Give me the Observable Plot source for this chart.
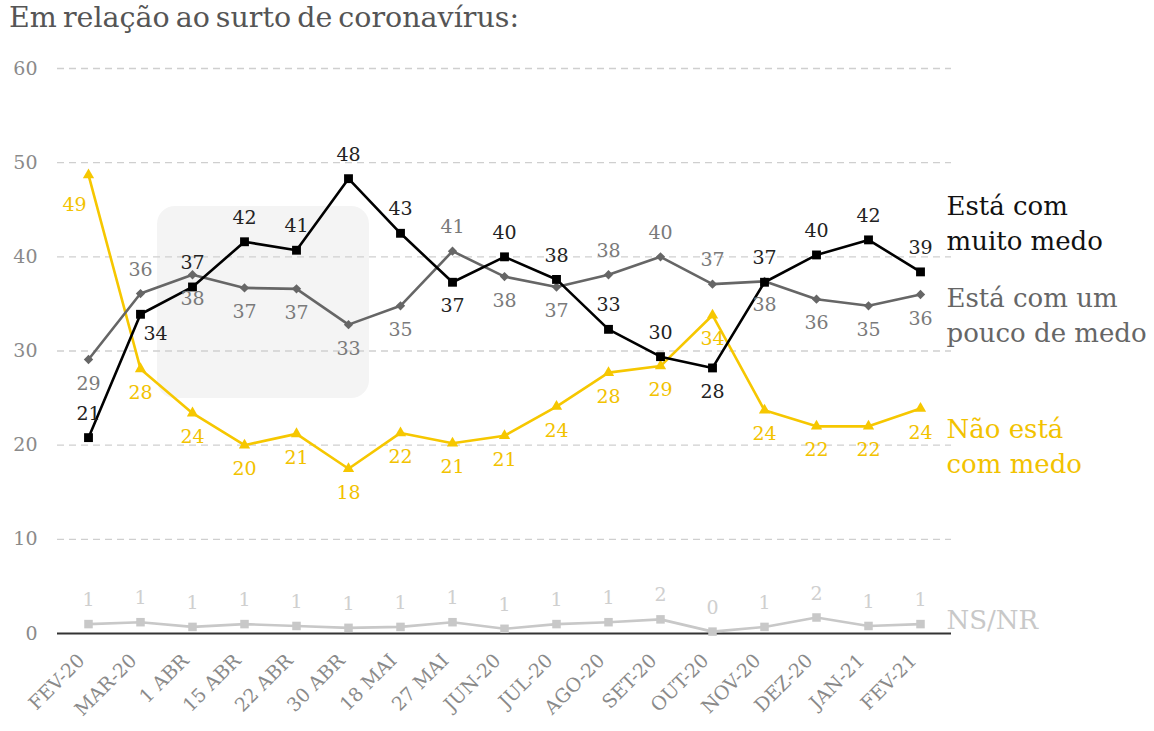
<!DOCTYPE html>
<html><head><meta charset="utf-8">
<script src="https://cdn.jsdelivr.net/npm/d3@7"></script>
<script src="https://cdn.jsdelivr.net/npm/@observablehq/plot@0.6"></script>
<style>
body{margin:0;background:#fff;}
#wrap{position:relative;width:1154px;height:731px;overflow:hidden;font-family:"DejaVu Serif";}
#title{position:absolute;left:9px;top:1px;font-size:28.5px;color:#555;letter-spacing:0px;word-spacing:-3px;white-space:nowrap;}
#wm-box{position:absolute;left:157px;top:206px;width:212px;height:192px;background:#f4f4f4;border-radius:18px;}
#chart{position:absolute;left:0;top:40px;}
</style></head>
<body><div id="wrap">
<div id="title">Em relação ao surto de coronavírus:</div>
<div id="wm-box"></div>
<div id="chart"></div>
</div>
<script>
const categories = ["FEV-20","MAR-20","1 ABR","15 ABR","22 ABR","30 ABR","18 MAI","27 MAI","JUN-20","JUL-20","AGO-20","SET-20","OUT-20","NOV-20","DEZ-20","JAN-21","FEV-21"];
const yTicks = [0,10,20,30,40,50,60];

const muitoMedo = [20.8,33.9,36.8,41.6,40.7,48.3,42.5,37.3,40.0,37.6,32.3,29.4,28.2,37.3,40.2,41.8,38.4];
const muitoMedoLabels = [21,34,37,42,41,48,43,37,40,38,33,30,28,37,40,42,39];
const muitoMedoPos = ["a","b","a","a","a","a","a","b","a","a","a","a","b","a","a","a","a"];

const poucoMedo = [29.1,36.1,38.1,36.7,36.6,32.8,34.8,40.6,37.9,36.8,38.1,40.0,37.1,37.4,35.5,34.8,36.0];
const poucoMedoLabels = [29,36,38,37,37,33,35,41,38,37,38,40,37,38,36,35,36];
const poucoMedoPos = ["b","a","b","b","b","b","b","a","b","b","a","a","a","b","b","b","b"];

const semMedo = [48.7,28.1,23.4,20.0,21.2,17.5,21.3,20.2,21.0,24.1,27.7,28.4,33.8,23.7,22.0,22.0,23.9];
const semMedoLabels = [49,28,24,20,21,18,22,21,21,24,28,29,34,24,22,22,24];
const semMedoPos = ["b","b","b","b","b","b","b","b","b","b","b","b","b","b","b","b","b"];

const nsnr = [1.0,1.2,0.7,1.0,0.8,0.6,0.7,1.2,0.5,1.0,1.2,1.5,0.2,0.7,1.7,0.8,1.0];
const nsnrLabels = [1,1,1,1,1,1,1,1,1,1,1,2,0,1,2,1,1];
const nsnrPos = ["a","a","a","a","a","a","a","a","a","a","a","a","a","a","a","a","a"];

const seriesNames = ["Está com\nmuito medo","Está com um\npouco de medo","Não está\ncom medo","NS/NR"];

const styles = [
  {values: muitoMedo, labels: muitoMedoLabels, pos: muitoMedoPos, line:"#000", text:"#222", legend:"#111", symbol:"square", r:5, ly:43.8},
  {values: poucoMedo, labels: poucoMedoLabels, pos: poucoMedoPos, line:"#666", text:"#7a7a7a", legend:"#666", symbol:"diamond2", r:4.2, ly:34.0},
  {values: semMedo, labels: semMedoLabels, pos: semMedoPos, line:"#F6C700", text:"#F2C200", legend:"#F2C200", symbol:"triangle", r:4.2, ly:20.1},
  {values: nsnr, labels: nsnrLabels, pos: nsnrPos, line:"#c8c8c8", text:"#cfcfcf", legend:"#c8c8c8", symbol:"square", r:4.8, ly:1.7}
];

const marks = [
  Plot.ruleY(yTicks.filter(d => d > 0), {stroke:"#cfcfcf", strokeDasharray:"7,5", strokeWidth:1.3}),
  Plot.ruleY([0], {stroke:"#333", strokeWidth:2}),
  Plot.axisY({ticks: yTicks, tickSize:0, tickPadding:20, fontSize:19, fill:"#8a8a8a", textAnchor:"end", label:null}),
  Plot.axisX({tickSize:0, tickRotate:-45, tickPadding:24, dx:-7, fontSize:19, fill:"#8a8a8a", label:null})
];

// draw order: NS/NR, yellow, gray, black
[3,2,1,0].forEach(i => {
  const s = styles[i];
  const rows = categories.map((c, j) => ({cat:c, v:s.values[j], label:String(s.labels[j]), pos:s.pos[j], j}));
  marks.push(Plot.line(rows, {x:"cat", y:"v", stroke:s.line, strokeWidth:2.6}));
  marks.push(Plot.dot(rows, {x:"cat", y:"v", fill:s.line, symbol:s.symbol, r:s.r}));
});
[3,2,1,0].forEach(i => {
  const s = styles[i];
  const rows = categories.map((c, j) => ({cat:c, v:s.values[j], label:String(s.labels[j]), pos:s.pos[j], j}));
  const isFirstYellow = (d) => i === 2 && d.j === 0;
  const isBlackMar = (d) => i === 0 && d.j === 1;
  marks.push(Plot.text(rows.filter(d => d.pos === "a"), {x:"cat", y:"v", text:"label", dy:-24, fill:s.text, fontSize:19}));
  marks.push(Plot.text(rows.filter(d => d.pos === "b" && !isFirstYellow(d) && !isBlackMar(d)), {x:"cat", y:"v", text:"label", dy:24, fill:s.text, fontSize:19}));
  marks.push(Plot.text(rows.filter(d => isFirstYellow(d)), {x:"cat", y:"v", text:"label", dy:30, dx:-14, fill:s.text, fontSize:19}));
  marks.push(Plot.text(rows.filter(d => isBlackMar(d)), {x:"cat", y:"v", text:"label", dy:20, dx:15, fill:s.text, fontSize:19}));
  marks.push(Plot.text([seriesNames[i]], {x:() => categories[categories.length-1], y:() => s.ly, text:d => d, dx:26, textAnchor:"start", lineAnchor:"middle", lineHeight:1.35, fill:s.legend, fontSize:26}));
});

const chart = Plot.plot({
  width:1154, height:691,
  marginTop:28, marginBottom:98, marginLeft:57, marginRight:203,
  x:{type:"point", domain:categories, padding:0.47, axis:null},
  y:{domain:[0,60], axis:null},
  style:{fontFamily:'"DejaVu Serif"', background:"transparent", overflow:"visible"},
  marks
});
document.getElementById("chart").appendChild(chart);
</script>
</body></html>
